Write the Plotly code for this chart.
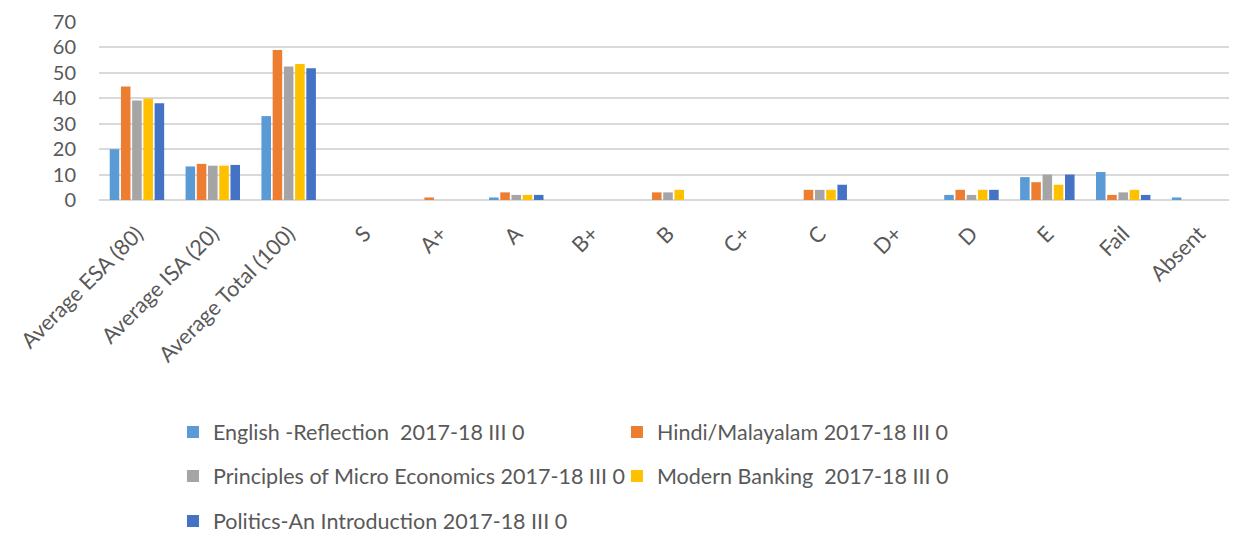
import plotly.graph_objects as go

categories = ["Average ESA (80)", "Average ISA (20)", "Average Total (100)", "S", "A+", "A",
              "B+", "B", "C+", "C", "D+", "D", "E", "Fail", "Absent"]

series_names = [
    "English -Reflection\u00a0\u00a02017-18 III 0",
    "Hindi/Malayalam 2017-18 III 0",
    "Principles of Micro Economics 2017-18 III 0",
    "Modern Banking\u00a0\u00a02017-18 III 0",
    "Politics-An Introduction 2017-18 III 0",
]

english = [20, 13.2, 33, 0, 0, 1, 0, 0, 0, 0, 0, 2, 9, 11, 1]
hindi = [44.6, 14.2, 59, 0, 1, 3, 0, 3, 0, 4, 0, 4, 7, 2, 0]
micro = [39.1, 13.5, 52.5, 0, 0, 2, 0, 3, 0, 4, 0, 2, 10, 3, 0]
banking = [39.9, 13.5, 53.5, 0, 0, 2, 0, 4, 0, 4, 0, 4, 6, 4, 0]
politics = [38, 13.8, 51.8, 0, 0, 2, 0, 0, 0, 6, 0, 4, 10, 2, 0]

colors = ["#5B9BD5", "#ED7D31", "#A5A5A5", "#FFC000", "#4472C4"]
legend_ids = ["legend", "legend", "legend2", "legend2", "legend3"]

FONT = "Lato, 'Open Sans', sans-serif"
TXT = "#595959"

fig = go.Figure()
for name, vals, col, lg in zip(series_names, [english, hindi, micro, banking, politics], colors, legend_ids):
    fig.add_trace(go.Bar(x=categories, y=vals, name=name, marker_color=col,
                         marker_line_width=0, legend=lg))

legend_common = dict(orientation="h", xanchor="left", yanchor="middle",
                     font=dict(family=FONT, size=21.5, color=TXT),
                     entrywidth=399, entrywidthmode="pixels", itemwidth=30,
                     bgcolor="rgba(0,0,0,0)", traceorder="normal")

# page body has an 8px default margin; figure sized to compensate
fig.update_layout(
    width=1229, height=526,
    margin=dict(l=91, r=0, t=14, b=334, autoexpand=False),
    plot_bgcolor="white", paper_bgcolor="white",
    barmode="group", bargap=0.26, bargroupgap=0.15,
    font=dict(family=FONT, size=21.5, color=TXT),
    legend=dict(x=0.065, y=-1.303, **legend_common),
    legend2=dict(x=0.065, y=-1.551, **legend_common),
    legend3=dict(x=0.065, y=-1.803, **legend_common),
    xaxis=dict(tickangle=-45, tickfont=dict(family=FONT, size=21.5, color=TXT),
               showgrid=False, showline=False, ticks="", automargin=False,
               ticklabelstandoff=16),
    yaxis=dict(range=[0, 70], dtick=10, showgrid=True, gridcolor="#D9D9D9", gridwidth=1.5,
               zeroline=True, zerolinecolor="#D9D9D9", zerolinewidth=1.5,
               tickfont=dict(family=FONT, size=20, color=TXT), ticks="",
               ticklabelstandoff=22, automargin=False),
)

fig.write_html("out.html")
